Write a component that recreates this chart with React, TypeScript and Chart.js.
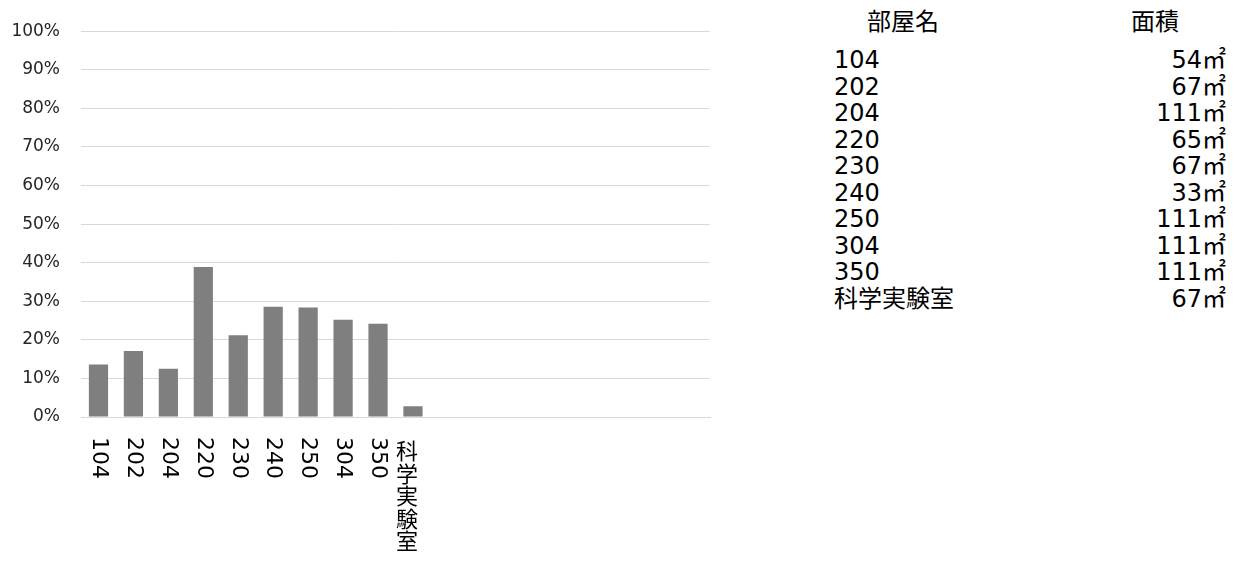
import React, { useEffect, useRef } from "react";
import { Chart, registerables } from "chart.js";

Chart.register(...registerables);

// ---- data ----
const categories: string[] = [
  "104", "202", "204", "220", "230", "240", "250", "304", "350", "科学実験室",
  "", "", "", "", "", "", "", "",
];
const usageRate: (number | null)[] = [
  13.6, 17.1, 12.5, 38.9, 21.2, 28.6, 28.4, 25.2, 24.2, 2.8,
  null, null, null, null, null, null, null, null,
];
const yMax = 100;
const yStep = 10;

const tableHeaders: string[] = ["部屋名", "面積"];
const tableRooms: string[] = ["104", "202", "204", "220", "230", "240", "250", "304", "350", "科学実験室"];
const tableAreas: string[] = ["54㎡", "67㎡", "111㎡", "65㎡", "67㎡", "33㎡", "111㎡", "111㎡", "111㎡", "67㎡"];

const verticalLabels = {
  id: "verticalLabels",
  afterDraw(chart: any) {
    const xs = chart.scales.x;
    const ctx = chart.ctx as CanvasRenderingContext2D;
    ctx.save();
    ctx.fillStyle = "#000000";
    categories.forEach((lab, i) => {
      if (!lab) return;
      const x = xs.getPixelForValue(i);
      if (/^[\x00-\x7f]+$/.test(lab)) {
        ctx.save();
        ctx.translate(x, xs.top + 20);
        ctx.rotate(Math.PI / 2);
        ctx.font = "22px 'DejaVu Sans'";
        ctx.textAlign = "left";
        ctx.textBaseline = "middle";
        ctx.fillText(lab, 0, 0);
        ctx.restore();
      } else {
        ctx.font = "22px 'Noto Sans CJK JP'";
        ctx.textAlign = "center";
        ctx.textBaseline = "top";
        Array.from(lab).forEach((ch, k) => {
          ctx.fillText(ch, x - 6, xs.top + 23 + k * 22.5);
        });
      }
    });
    ctx.restore();
  },
};

export default function App() {
  const ref = useRef<HTMLCanvasElement | null>(null);

  useEffect(() => {
    if (!ref.current) return;
    const chart = new Chart(ref.current, {
      type: "bar",
      data: {
        labels: categories,
        datasets: [
          {
            data: usageRate,
            backgroundColor: "#7f7f7f",
            borderWidth: 0,
            categoryPercentage: 1,
            barPercentage: 0.55,
          },
        ],
      },
      options: {
        animation: false,
        responsive: false,
        devicePixelRatio: 1,
        layout: { padding: { top: 29, right: 10, bottom: 0, left: 0 } },
        plugins: {
          legend: { display: false },
          tooltip: { enabled: false },
        },
        scales: {
          x: {
            grid: { display: false },
            border: { display: true, color: "#d9d9d9", width: 1 },
            ticks: { display: false },
            afterFit: (s: any) => {
              s.height = 145;
            },
          },
          y: {
            min: 0,
            max: yMax,
            grid: { color: "#d9d9d9", lineWidth: 1, drawTicks: false },
            border: { display: false },
            ticks: {
              stepSize: yStep,
              padding: 21,
              color: "#262626",
              font: { family: "'DejaVu Sans'", size: 17 },
              callback: (v: any) => `${v}%`,
            },
            afterFit: (s: any) => {
              s.width = 81;
            },
          },
        },
      },
      plugins: [verticalLabels],
    });
    return () => chart.destroy();
  }, []);

  const font = "'DejaVu Sans', 'Noto Sans CJK JP', sans-serif";

  return (
    <div>
      <canvas
        ref={ref}
        width={720}
        height={562}
        style={{ position: "absolute", left: 0, top: 0, width: 720, height: 562, display: "block" }}
      />
      <div
        style={{
          position: "absolute",
          left: 867,
          top: 8,
          font: `24px 'Noto Sans CJK JP'`,
          lineHeight: "24px",
          color: "#000",
          whiteSpace: "nowrap",
        }}
      >
        {tableHeaders[0]}
      </div>
      <div
        style={{
          position: "absolute",
          left: 1131,
          top: 8,
          font: `24px 'Noto Sans CJK JP'`,
          lineHeight: "24px",
          color: "#000",
          whiteSpace: "nowrap",
        }}
      >
        {tableHeaders[1]}
      </div>
      <div
        style={{
          position: "absolute",
          left: 834,
          top: 47,
          fontFamily: font,
          fontSize: 24,
          lineHeight: "26.5px",
          color: "#000",
          whiteSpace: "nowrap",
        }}
      >
        {tableRooms.map((r, i) => (
          <div key={i}>{r}</div>
        ))}
      </div>
      <div
        style={{
          position: "absolute",
          left: 1060,
          width: 166,
          top: 47,
          fontFamily: font,
          fontSize: 24,
          lineHeight: "26.5px",
          color: "#000",
          textAlign: "right",
          whiteSpace: "nowrap",
        }}
      >
        {tableAreas.map((a, i) => (
          <div key={i}>{a}</div>
        ))}
      </div>
    </div>
  );
}
